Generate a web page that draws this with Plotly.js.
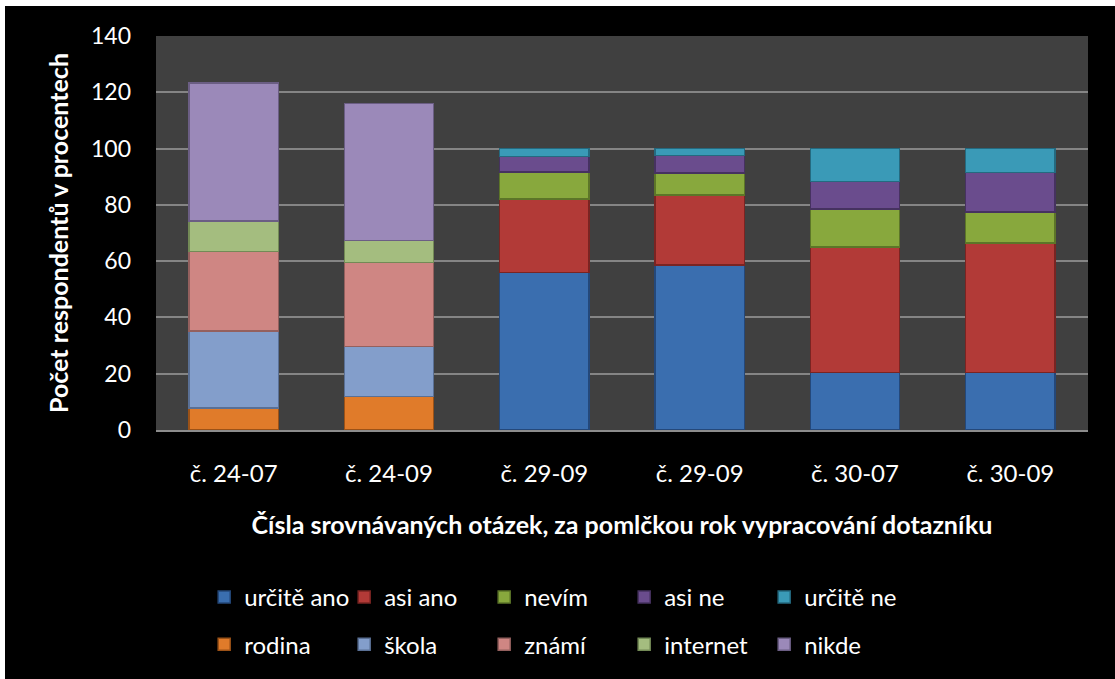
<!DOCTYPE html>
<html>
<head>
<meta charset="utf-8">
<script src="https://cdn.plot.ly/plotly-3.0.1.min.js"></script>
<style>
  html, body { margin: 0; padding: 0; background: #ffffff; }
  #chart { position: absolute; left: 5px; top: 6px; width: 1110px; height: 673px; }
</style>
</head>
<body>
<div id="chart"></div>
<script>
// Categories (two share the same label in the original)
const categories = ["č. 24-07", "č. 24-09", "č. 29-09", "č. 29-09", "č. 30-07", "č. 30-09"];

// Answer series (questions 29, 30)
const urciteAno = [null, null, 56, 58.6, 20.4, 20.4];
const asiAno    = [null, null, 26, 24.9, 44.7, 46.1];
const nevim     = [null, null, 9.7, 7.9, 13.4, 10.9];
const asiNe     = [null, null, 5.5, 6.1, 9.8, 14.1];
const urciteNe  = [null, null, 2.8, 2.5, 11.7, 8.5];

// Source series (question 24)
const rodina   = [7.8, 11.9, null, null, null, null];
const skola    = [27.3, 17.7, null, null, null, null];
const znami    = [28.3, 29.9, null, null, null, null];
const internet = [10.8, 7.9, null, null, null, null];
const nikde    = [49.1, 48.6, null, null, null, null];

const seriesNames1 = ["určitě ano", "asi ano", "nevím", "asi ne", "určitě ne"];
const seriesNames2 = ["rodina", "škola", "známí", "internet", "nikde"];
const yTickVals = [0, 20, 40, 60, 80, 100, 120, 140];

const xIdx = categories.map((c, i) => i);

const FONT = "Lato, 'Open Sans', sans-serif";

function bar(name, values, fill, line, legendId) {
  return {
    type: "bar",
    name: name,
    x: xIdx,
    y: values,
    legend: legendId,
    marker: { color: fill, line: { color: line, width: 1.5 } },
    hoverinfo: "name+y"
  };
}

const traces = [
  bar(seriesNames2[0], rodina,   "#e07b2a", "#9c5217", "legend2"),
  bar(seriesNames2[1], skola,    "#839ecb", "#5a7095", "legend2"),
  bar(seriesNames2[2], znami,    "#cf8683", "#94605e", "legend2"),
  bar(seriesNames2[3], internet, "#a4bd7f", "#738a56", "legend2"),
  bar(seriesNames2[4], nikde,    "#9b89b9", "#6b5e84", "legend2"),
  bar(seriesNames1[0], urciteAno, "#3a6eaf", "#24487a", "legend"),
  bar(seriesNames1[1], asiAno,    "#b23a37", "#7a2422", "legend"),
  bar(seriesNames1[2], nevim,     "#88a83d", "#5c7528", "legend"),
  bar(seriesNames1[3], asiNe,     "#6a4c8d", "#463260", "legend"),
  bar(seriesNames1[4], urciteNe,  "#3a9ab7", "#246a80", "legend")
];

const legendCommon = {
  orientation: "h",
  xanchor: "left",
  yanchor: "middle",
  entrywidth: 95,
  entrywidthmode: "pixels",
  traceorder: "normal",
  font: { family: FONT, size: 24, color: "#ffffff" },
  bgcolor: "rgba(0,0,0,0)",
  itemwidth: 30
};

const layout = {
  width: 1110,
  height: 673,
  paper_bgcolor: "#000000",
  plot_bgcolor: "#404040",
  barmode: "stack",
  bargap: 0.425,
  margin: { l: 151, r: 27, t: 30, b: 245 },
  font: { family: FONT, color: "#ffffff", size: 22 },
  xaxis: {
    range: [-0.5, 5.5],
    tickvals: xIdx,
    ticktext: categories,
    tickfont: { family: FONT, size: 24, color: "#ffffff" },
    ticks: "",
    ticklabelstandoff: 21,
    showgrid: false,
    showline: true,
    linecolor: "#8c8c8c",
    linewidth: 2,
    zeroline: false,
    title: {
      text: "<b>Čísla srovnávaných otázek, za pomlčkou rok vypracování dotazníku</b>",
      font: { family: FONT, size: 25, color: "#ffffff" },
      standoff: 31
    },
    fixedrange: true
  },
  yaxis: {
    range: [0, 140],
    tickvals: yTickVals,
    tickfont: { family: FONT, size: 23, color: "#ffffff" },
    ticks: "",
    ticklabelstandoff: 24,
    showgrid: true,
    gridcolor: "#858585",
    gridwidth: 2,
    zeroline: false,
    showline: false,
    title: {
      text: "<b>Počet respondentů v procentech</b>",
      font: { family: FONT, size: 25, color: "#ffffff" },
      standoff: 15
    },
    fixedrange: true
  },
  legend: Object.assign({}, legendCommon, { x: 0.0517, y: -0.425 }),
  legend2: Object.assign({}, legendCommon, { x: 0.0517, y: -0.545 }),
  showlegend: true
};

Plotly.newPlot("chart", traces, layout, { displayModeBar: false });
</script>
</body>
</html>
